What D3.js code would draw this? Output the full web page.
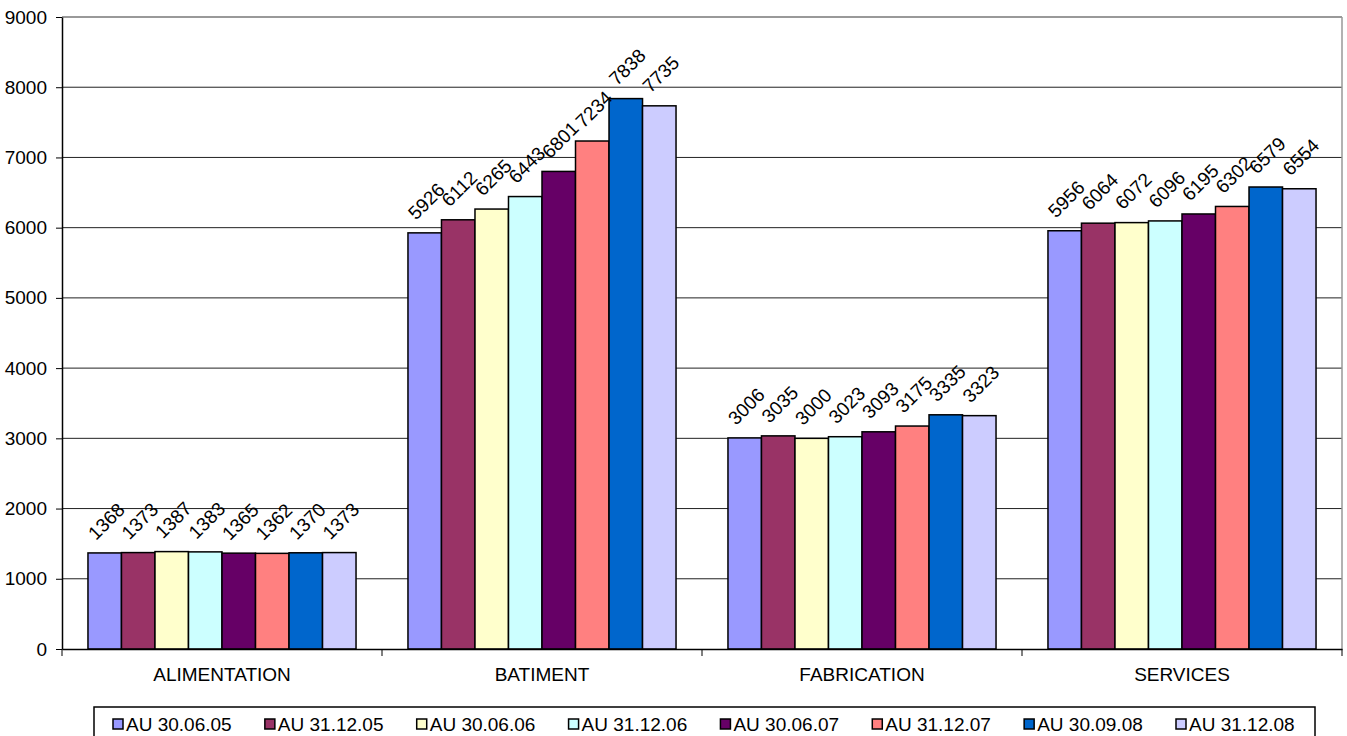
<!DOCTYPE html>
<html>
<head>
<meta charset="utf-8">
<script src="https://cdn.jsdelivr.net/npm/d3@7"></script>
<style>
  body { margin: 0; background: #fff; }
  svg text { font-family: "Liberation Sans", Arial, sans-serif; fill: #000; }
</style>
</head>
<body>
<div class="chart"></div>
<script>
// catégories et séries
const categories = ["ALIMENTATION", "BATIMENT", "FABRICATION", "SERVICES"];
const seriesNames = ["AU 30.06.05", "AU 31.12.05", "AU 30.06.06", "AU 31.12.06",
                     "AU 30.06.07", "AU 31.12.07", "AU 30.09.08", "AU 31.12.08"];
const seriesColors = ["#9999FF", "#993366", "#FFFFCC", "#CCFFFF",
                      "#660066", "#FF8080", "#0066CC", "#CCCCFF"];
// valeurs par série (ordre des catégories)
const au300605 = [1368, 5926, 3006, 5956];
const au311205 = [1373, 6112, 3035, 6064];
const au300606 = [1387, 6265, 3000, 6072];
const au311206 = [1383, 6443, 3023, 6096];
const au300607 = [1365, 6801, 3093, 6195];
const au311207 = [1362, 7234, 3175, 6302];
const au300908 = [1370, 7838, 3335, 6579];
const au311208 = [1373, 7735, 3323, 6554];
const yTicks = [0, 1000, 2000, 3000, 4000, 5000, 6000, 7000, 8000, 9000];

const allSeries = [au300605, au311205, au300606, au311206, au300607, au311207, au300908, au311208];

// table des barres
const data = [];
categories.forEach((c, ci) => {
    seriesNames.forEach((s, si) => {
        data.push({ cat: c, serie: s, value: allSeries[si][ci], color: seriesColors[si] });
    });
});

const width = 1347, height = 736;
const plot = { left: 62, right: 1342, top: 17, bottom: 649 };
const fontSize = '19px';

const svg = d3.select('.chart').append('svg')
    .attr('width', width).attr('height', height);

const y = d3.scaleLinear().domain([0, 9000]).range([plot.bottom, plot.top]);
const x0 = d3.scaleBand().domain(categories).range([plot.left, plot.right]).padding(0);
const x1 = d3.scaleBand().domain(seriesNames).range([0, x0.bandwidth()])
    .paddingInner(0).paddingOuter(0.775);

// grille
svg.append('g').selectAll('line').data(yTicks.filter(d => d > 0)).join('line')
    .attr('x1', plot.left).attr('x2', plot.right)
    .attr('y1', d => y(d)).attr('y2', d => y(d))
    .attr('stroke', d => d === 9000 ? '#777' : '#222')
    .attr('stroke-width', d => d === 9000 ? 1.5 : 1);

// bord droit
svg.append('line')
    .attr('x1', plot.right).attr('x2', plot.right)
    .attr('y1', plot.top).attr('y2', plot.bottom)
    .attr('stroke', '#999').attr('stroke-width', 1.5);

// axe Y
const yAxis = d3.axisLeft(y).tickValues(yTicks).tickFormat(d3.format('d'))
    .tickSize(6).tickSizeOuter(0).tickPadding(9);
const yAxisDraw = svg.append('g').attr('transform', `translate(${plot.left},0)`).call(yAxis);
yAxisDraw.select('.domain').attr('stroke', '#000').attr('stroke-width', 1.5);
yAxisDraw.selectAll('.tick line').attr('stroke', '#000');
yAxisDraw.selectAll('text').attr('font-size', fontSize)
    .style('font-family', '"Liberation Sans", Arial, sans-serif').attr('fill', '#000');

// barres
const bars = svg.append('g').attr('class', 'bars');
bars.selectAll('rect').data(data).join('rect')
    .attr('x', d => x0(d.cat) + x1(d.serie))
    .attr('y', d => y(d.value))
    .attr('width', x1.bandwidth())
    .attr('height', d => y(0) - y(d.value))
    .attr('fill', d => d.color)
    .attr('stroke', '#000')
    .attr('stroke-width', 1.5);

// étiquettes de valeurs (pivotées à 45°)
svg.append('g').selectAll('text').data(data).join('text')
    .attr('transform', d => `translate(${x0(d.cat) + x1(d.serie) + 8},${y(d.value) - 12}) rotate(-45)`)
    .attr('font-size', fontSize)
    .text(d => d.value);

// axe X
const xAxis = d3.axisBottom(x0).tickSize(0).tickPadding(19);
const xAxisDraw = svg.append('g').attr('transform', `translate(0,${plot.bottom})`).call(xAxis);
xAxisDraw.select('.domain').attr('stroke', '#000').attr('stroke-width', 1.5);
xAxisDraw.selectAll('text').attr('font-size', fontSize)
    .style('font-family', '"Liberation Sans", Arial, sans-serif').attr('fill', '#000');
// séparateurs de catégories
const sepX = categories.map(c => x0(c)).concat([plot.right]);
svg.append('g').selectAll('line').data(sepX).join('line')
    .attr('x1', d => d).attr('x2', d => d)
    .attr('y1', plot.bottom).attr('y2', plot.bottom + 7)
    .attr('stroke', '#000').attr('stroke-width', 1);

// légende
const legend = svg.append('g').attr('class', 'legend');
legend.append('rect')
    .attr('x', 94).attr('y', 707).attr('width', 1221).attr('height', 40)
    .attr('fill', '#fff').attr('stroke', '#000').attr('stroke-width', 1.5);
const legX = d3.scalePoint().domain(seriesNames).range([113, 1176]);
const items = legend.selectAll('g.item').data(seriesNames).join('g')
    .attr('class', 'item')
    .attr('transform', d => `translate(${legX(d)},0)`);
items.append('rect')
    .attr('x', 0).attr('y', 719).attr('width', 10).attr('height', 10)
    .attr('fill', (d, i) => seriesColors[i]).attr('stroke', '#000').attr('stroke-width', 1.5);
items.append('text')
    .attr('x', 13).attr('y', 731)
    .attr('font-size', fontSize)
    .text(d => d);
</script>
</body>
</html>
